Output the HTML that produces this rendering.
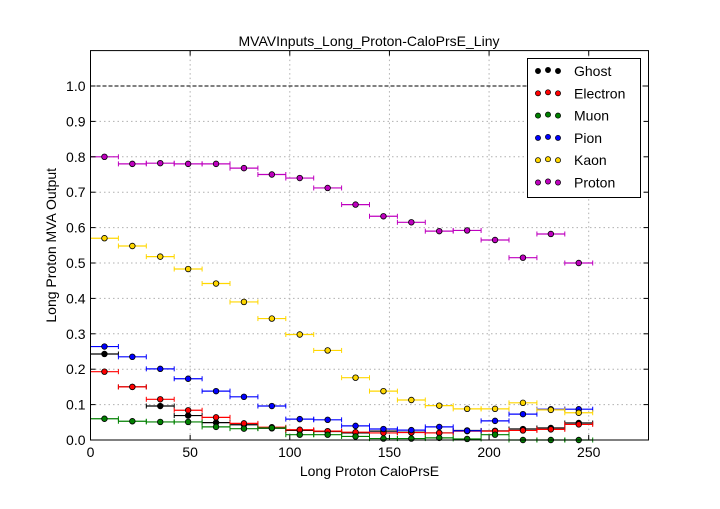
<!DOCTYPE html>
<html><head><meta charset="utf-8"><style>
body{margin:0;background:#fff;}
svg text{font-family:"Liberation Sans",sans-serif;}
</style></head><body>
<svg id="chart" width="720" height="504" xmlns="http://www.w3.org/2000/svg"></svg>
<script>
const binCenters=[7,21,35,49,63,77,91,105,119,133,147,161,175,189,203,217,231,245];
const seriesNames=["Ghost","Electron","Muon","Pion","Kaon","Proton"];
const seriesColors=["#000000","#ff0000","#008000","#0000ff","#ffd700","#bf00bf"];
const ghost=[0.243,0.15,0.096,0.069,0.049,0.043,0.033,0.027,0.024,0.02,0.025,0.022,0.02,0.027,0.026,0.031,0.034,0.048];
const electron=[0.193,0.15,0.115,0.084,0.064,0.047,0.036,0.029,0.025,0.022,0.02,0.021,0.02,0.025,0.025,0.027,0.03,0.044];
const muon=[0.06,0.053,0.051,0.051,0.037,0.032,0.034,0.015,0.015,0.01,0.004,0.004,0.006,0.003,0.015,0.0,0.0,0.0];
const pion=[0.264,0.235,0.201,0.173,0.138,0.122,0.096,0.059,0.057,0.04,0.031,0.028,0.037,0.026,0.054,0.073,0.087,0.087];
const kaon=[0.57,0.548,0.518,0.483,0.442,0.39,0.343,0.298,0.253,0.176,0.138,0.113,0.097,0.088,0.088,0.105,0.085,0.077];
const proton=[0.80,0.78,0.782,0.78,0.78,0.768,0.75,0.74,0.712,0.665,0.632,0.615,0.59,0.592,0.565,0.515,0.582,0.50];
const xTicks=[0,50,100,150,200,250];
const yTicks=[0.0,0.1,0.2,0.3,0.4,0.5,0.6,0.7,0.8,0.9,1.0];
const binHalfWidth=7;

const NS="http://www.w3.org/2000/svg";
const svg=document.getElementById('chart');
const L=90.5,R=648.5,T=50.6,B=440;
const X=v=>L+(v/280)*(R-L);
const Y=v=>B-(v/1.1)*(B-T);
function el(tag,attrs,parent){const e=document.createElementNS(NS,tag);for(const k in attrs)e.setAttribute(k,attrs[k]);(parent||svg).appendChild(e);return e;}

const grid=el('g',{});


xTicks.forEach(t=>{if(t>0)el('line',{x1:X(t),x2:X(t),y1:T,y2:B,stroke:'#b0b0b0','stroke-dasharray':'1.5,3'},grid);});
yTicks.forEach(t=>{if(t>0&&t<1)el('line',{x1:L,x2:R,y1:Y(t),y2:Y(t),stroke:'#b0b0b0','stroke-dasharray':'1.5,3'},grid);});
const ref=el('line',{x1:L,x2:R,y1:Y(1),y2:Y(1),stroke:'#000','stroke-dasharray':'4,2'});



const allSeries=[ghost,electron,muon,pion,kaon,proton];
allSeries.forEach((vals,si)=>{
  const g=el('g',{});
  
  
  const c=seriesColors[si];
  vals.forEach((v,i)=>{
    const x0=X(binCenters[i]-binHalfWidth),x1=X(binCenters[i]+binHalfWidth),y=Y(v);
    el('line',{x1:x0,x2:x1,y1:y,y2:y,stroke:c,'stroke-width':1.2},g);
    el('line',{x1:x0,x2:x0,y1:y-2.5,y2:y+2.5,stroke:c,'stroke-width':1},g);
    el('line',{x1:x1,x2:x1,y1:y-2.5,y2:y+2.5,stroke:c,'stroke-width':1},g);
    const p=el('circle',{cx:X(binCenters[i]),cy:y,r:2.8,fill:c,stroke:'#000','stroke-width':0.8},g);
    
    
  });
});

const frame=el('rect',{x:L,y:T,width:R-L,height:B-T,fill:'none',stroke:'#000','stroke-width':1});



const xa=el('g',{});


xTicks.forEach(t=>{
  el('line',{x1:X(t),x2:X(t),y1:B,y2:B-5,stroke:'#000'},xa);
  el('line',{x1:X(t),x2:X(t),y1:T,y2:T+5,stroke:'#000'},xa);
  const tx=el('text',{x:X(t),y:B+17,'text-anchor':'middle','font-size':14},xa);tx.textContent=t;
});
const ya=el('g',{});


yTicks.forEach(t=>{
  el('line',{x1:L,x2:L+5,y1:Y(t),y2:Y(t),stroke:'#000'},ya);
  el('line',{x1:R,x2:R-5,y1:Y(t),y2:Y(t),stroke:'#000'},ya);
  const tx=el('text',{x:L-5,y:Y(t)+5,'text-anchor':'end','font-size':14},ya);tx.textContent=t.toFixed(1);
});
const xt=el('text',{x:(L+R)/2,y:476,'text-anchor':'middle','font-size':14});xt.textContent='Long Proton CaloPrsE';


const yt=el('text',{x:0,y:0,'text-anchor':'middle','font-size':14,transform:`translate(56,${(T+B)/2}) rotate(-90)`});yt.textContent='Long Proton MVA Output';


const tt=el('text',{x:369,y:46,'text-anchor':'middle','font-size':14});tt.textContent='MVAVInputs_Long_Proton-CaloPrsE_Liny';



const lg=el('g',{});


el('rect',{x:527.5,y:58.5,width:113,height:139,fill:'#fff',stroke:'#000'},lg);
seriesNames.forEach((n,i)=>{
  const e=el('g',{},lg);
  
  
  const y=71+i*22.3;
  [538,548,558].forEach((x,k)=>el('circle',{cx:x,cy:y+(k===1?-1:0),r:2.6,fill:seriesColors[i],stroke:'#000','stroke-width':0.7},e));
  const t=el('text',{x:574,y:y+5,'font-size':14},e);t.textContent=n;
});
</script>
</body></html>
